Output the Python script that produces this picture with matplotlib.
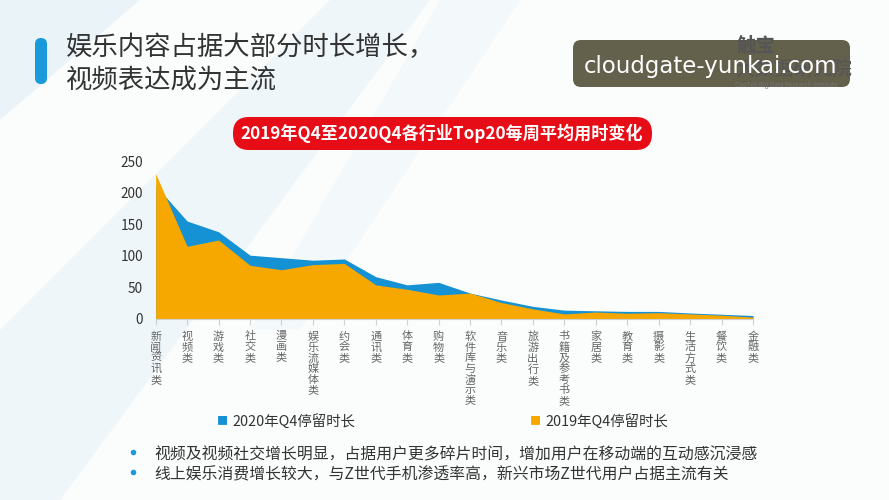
import matplotlib
matplotlib.use('Agg')
import matplotlib.pyplot as plt
from matplotlib.patches import FancyBboxPatch, Polygon
import numpy as np

plt.rcParams['font.family'] = ['Noto Sans CJK SC', 'DejaVu Sans']

# data (minutes per week)
categories = ['新闻资讯类', '视频类', '游戏类', '社交类', '漫画类', '娱乐流媒体类', '约会类',
              '通讯类', '体育类', '购物类', '软件库与演示类', '音乐类', '旅游出行类',
              '书籍及参考书类', '家居类', '教育类', '摄影类', '生活方式类', '餐饮类', '金融类']
q4_2020 = [211, 155, 138, 101, 97, 93, 95, 67, 54, 58, 41, 30, 20, 14, 13, 12, 12, 9.5, 7.5, 5.5]
q4_2019 = [230, 115, 125, 85, 78, 86, 88, 54, 47, 38, 41, 26, 16, 8, 11, 9, 10, 8, 6, 3]
yticks = [0, 50, 100, 150, 200, 250]

BLUE = '#1592d3'
ORANGE = '#f6a800'
TEXT = '#333333'

fig = plt.figure(figsize=(8.89, 5), dpi=100)
fig.patch.set_facecolor('#fbfcfc')

# faint background swooshes
bg = fig.add_axes([0, 0, 1, 1], zorder=-5)
bg.set_xlim(0, 889)
bg.set_ylim(500, 0)
bg.axis('off')
bg.add_patch(Polygon([[0, 330], [0, 500], [60, 500], [430, 0], [330, 0]],
                     closed=True, fc='#e4f1f8', ec='none', alpha=0.5))
bg.add_patch(Polygon([[0, 0], [0, 120], [140, 0]], closed=True, fc='#dcedf6', ec='none', alpha=0.55))
bg.add_patch(Polygon([[440, 0], [520, 0], [300, 330], [250, 330]], closed=True,
                     fc='#eef6fa', ec='none', alpha=0.6))

# title bar and headline
bg.add_patch(FancyBboxPatch((35, 38), 12, 46, boxstyle='round,pad=0,rounding_size=6',
                            fc='#1a9ad8', ec='none'))
bg.text(66, 47, '娱乐内容占据大部分时长增长，', fontsize=19, color=TEXT, va='center', ha='left')
bg.text(66, 80, '视频表达成为主流', fontsize=19, color=TEXT, va='center', ha='left')

# logo behind watermark
bg.text(737, 46, '触宝', fontsize=14, color='#555555', va='center', ha='left', fontweight='bold')
bg.text(735, 69, '大数据研究院', fontsize=14, color='#555555', va='center', ha='left')
bg.text(735, 85, 'CooTek Big Data Research Institute', fontsize=4.5, color='#777777',
        va='center', ha='left')
bg.add_patch(FancyBboxPatch((573, 40), 277, 47, boxstyle='round,pad=0,rounding_size=8',
                            fc='#4e4a33', ec='none', alpha=0.88))
bg.text(711, 66, 'cloudgate-yunkai.com', fontsize=16.5, color='white', va='center', ha='center',
        family='DejaVu Sans')

# red chart title pill
bg.add_patch(FancyBboxPatch((233, 117), 419, 33, boxstyle='round,pad=0,rounding_size=16',
                            fc='#e60d17', ec='none'))
bg.text(442, 133, '2019年Q4至2020Q4各行业Top20每周平均用时变化', fontsize=12.3, color='white',
        va='center', ha='center', fontweight='bold')

# area chart
ax = fig.add_axes([0.1751, 1 - 319 / 500, 0.847 - 0.1751, 158 / 500])
ax.set_facecolor('none')
x = np.arange(len(categories))
ax.fill_between(x, q4_2020, 0, color=BLUE, lw=0, label='2020年Q4停留时长')
ax.fill_between(x, q4_2019, 0, color=ORANGE, lw=0, label='2019年Q4停留时长')
ax.set_xlim(0, len(categories) - 1)
ax.set_ylim(0, 250)
ax.set_yticks(yticks)
ax.set_yticklabels([str(v) for v in yticks], fontsize=9.8, color=TEXT)
ax.tick_params(axis='y', length=0, pad=9)
ax.set_xticks(x)
ax.set_xticklabels(['\n'.join(c) for c in categories], fontsize=8, color='#666666',
                   linespacing=1.06, va='top')
ax.tick_params(axis='x', length=4, color='#d0d0d0', pad=5)
for s in ['top', 'right', 'left']:
    ax.spines[s].set_visible(False)
ax.spines['bottom'].set_color('#d0d0d0')
ax.spines['bottom'].set_linewidth(0.8)

# legend
bg.text(217, 421, '■', fontsize=8, color=BLUE, va='center', ha='left')
bg.text(232, 421, '2020年Q4停留时长', fontsize=10.4, color=TEXT, va='center', ha='left')
bg.text(530, 421, '■', fontsize=8, color=ORANGE, va='center', ha='left')
bg.text(545, 421, '2019年Q4停留时长', fontsize=10.4, color=TEXT, va='center', ha='left')

# notes
notes = ['视频及视频社交增长明显，占据用户更多碎片时间，增加用户在移动端的互动感沉浸感',
         '线上娱乐消费增长较大，与Z世代手机渗透率高，新兴市场Z世代用户占据主流有关']
for i, note in enumerate(notes):
    yy = 455 + i * 20
    bg.plot([133], [yy - 3], 'o', ms=4, color='#1a9ad8', mec='none')
    bg.text(154, yy, note, fontsize=11.4, color=TEXT, va='center', ha='left')

fig.savefig('out.png', dpi=100, facecolor=fig.get_facecolor())
